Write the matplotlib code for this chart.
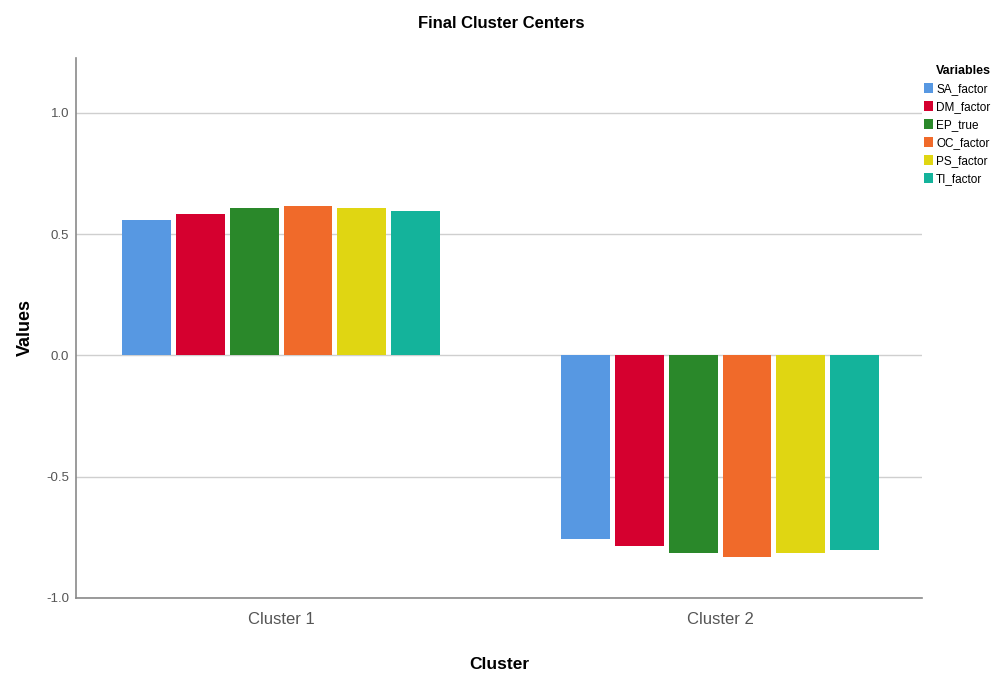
import matplotlib.pyplot as plt
import numpy as np

plt.rcParams['font.family'] = ['Liberation Sans', 'DejaVu Sans']

clusters = ['Cluster 1', 'Cluster 2']
variables = ['SA_factor', 'DM_factor', 'EP_true', 'OC_factor', 'PS_factor', 'TI_factor']
colors = ['#5798e2', '#d5002f', '#2a882a', '#f06a2a', '#e0d612', '#14b39b']

# final cluster centres, one list per variable (cluster 1, cluster 2)
sa_factor = [0.560, -0.757]
dm_factor = [0.584, -0.786]
ep_true = [0.607, -0.816]
oc_factor = [0.616, -0.830]
ps_factor = [0.609, -0.816]
ti_factor = [0.595, -0.802]
series = [sa_factor, dm_factor, ep_true, oc_factor, ps_factor, ti_factor]

DPI = 100
fig = plt.figure(figsize=(10.03, 6.81), dpi=DPI)
ax = fig.add_axes([0.0758, 0.122, 0.8435, 0.793])

slot = 0.1225
bar_w = 0.111
x = np.arange(len(clusters))
for i, (vals, name, col) in enumerate(zip(series, variables, colors)):
    off = (i - (len(series) - 1) / 2) * slot
    ax.bar(x + off, vals, bar_w, color=col, label=name, zorder=3)

ax.set_xlim(-0.467, 1.46)
ax.set_ylim(-1.0, 1.227)
ax.set_yticks([-1.0, -0.5, 0.0, 0.5, 1.0])
ax.set_yticklabels(['-1.0', '-0.5', '0.0', '0.5', '1.0'])
ax.set_xticks(x)
ax.set_xticklabels(clusters)
ax.yaxis.grid(True, color='#cfcfcf', linewidth=1.0, zorder=0)
ax.set_axisbelow(True)

for s in ['top', 'right']:
    ax.spines[s].set_visible(False)
for s in ['left', 'bottom']:
    ax.spines[s].set_color('#8a8a8a')
    ax.spines[s].set_linewidth(1.2)

ax.tick_params(axis='y', length=0, pad=5, labelsize=9.5, labelcolor='#555555')
ax.tick_params(axis='x', length=0, pad=10, labelsize=12, labelcolor='#555555')

ax.set_ylabel('Values', fontsize=13, fontweight='bold', labelpad=9)
ax.set_xlabel('Cluster', fontsize=12.5, fontweight='bold', labelpad=22)
fig.text(0.5, 1 - 23 / 681, 'Final Cluster Centers', ha='center', va='center',
         fontsize=12, fontweight='bold')

leg = fig.legend(loc='upper left', bbox_to_anchor=(922 / 1003, 1 - 63 / 681),
                 frameon=False, title='Variables', fontsize=8.5,
                 handlelength=0.75, handleheight=0.9, handletextpad=0.25,
                 labelspacing=0.5, borderpad=0.2, borderaxespad=0)
leg.get_title().set_fontweight('bold')
leg.get_title().set_fontsize(9)
leg._legend_box.align = 'right'

fig.savefig('out.png', dpi=DPI)
